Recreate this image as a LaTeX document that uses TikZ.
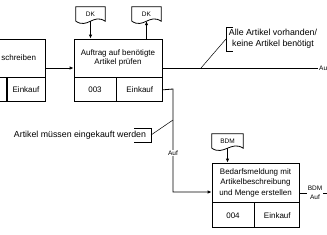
\documentclass[tikz,border=0pt]{standalone}
\usepackage{fontspec}
\setmainfont{Liberation Sans}
\usetikzlibrary{arrows.meta,positioning,calc}

\tikzset{
  fbox/.style={draw, line width=0.8pt, minimum width=88pt, minimum height=38pt,
    inner sep=0pt, align=center, font=\fontsize{8}{9.5}\selectfont},
  cell/.style={draw, line width=0.8pt, minimum height=24pt, inner sep=0pt,
    font=\fontsize{8}{9.5}\selectfont},
  doc/.style={minimum width=29pt, minimum height=14pt, inner sep=0pt,
    font=\fontsize{6.5}{7}\selectfont},
  flow/.style={line width=0.8pt},
  arr/.style={flow, -{Latex[length=4pt,width=3.5pt]}},
  lbl/.style={fill=white, inner sep=1pt, align=center,
    font=\fontsize{6.5}{8.5}\selectfont},
  note/.style={inner sep=0pt, align=center, font=\fontsize{8.8}{11}\selectfont},
  link/.style={line width=0.5pt}
}

% document symbol round a node
\newcommand{\docshape}[1]{%
  \draw[flow] (#1.south west) -- (#1.north west) -- (#1.north east) -- (#1.south east)
    .. controls ($(#1.south east)+(-12,-8)$) and ($(#1.south west)+(12,8)$) .. (#1.south west);}

\begin{document}
\begin{tikzpicture}[x=1pt,y=-1pt]
    \clip (0,0) rectangle (327,234);

    % functions
    \node[fbox, text width=70pt, align=right] (f2) at (1,58) {schreiben};
    \node[cell, minimum width=38pt, anchor=north east] (f2o) at (f2.south east) {Einkauf};
    \node[cell, minimum width=50pt, anchor=north east] (f2n) at (f2o.north west) {};

    \node[fbox] (f3) at (118,58) {Auftrag auf benötigte\\Artikel prüfen};
    \node[cell, minimum width=42pt, anchor=north west] (f3n) at (f3.south west) {003};
    \node[cell, minimum width=46pt, anchor=north west] (f3o) at (f3n.north east) {Einkauf};

    \node[fbox, minimum width=87pt, minimum height=39pt, font=\fontsize{8}{10.5}\selectfont]
      (f4) at (255.5,182.5) {Bedarfsmeldung mit\\Artikelbeschreibung\\und Menge erstellen};
    \node[cell, minimum width=42pt, minimum height=25pt, anchor=north west] (f4n) at (f4.south west) {004};
    \node[cell, minimum width=45pt, minimum height=25pt, anchor=north west] (f4o) at (f4n.north east) {Einkauf};

    % documents
    \node[doc] (dk1) at (90.5,14) {DK};
    \node[doc] (dk2) at (146.5,14) {DK};
    \node[doc, minimum width=31pt] (bdm) at (227.5,141) {BDM};
    \docshape{dk1}
    \docshape{dk2}
    \docshape{bdm}

    \draw[arr] (dk1.south) -- (dk1.south |- f3.north);
    \draw[arr] (dk2.south |- f3.north) -- (dk2.south);
    \draw[arr] (bdm.south) -- (bdm.south |- f4.north);

    % flows
    \coordinate (j1) at (173,89);
    \coordinate (j2) at (173,192);
    \coordinate (e4) at (327,193);
    \node[lbl, anchor=west] (o3) at (318,68) {Auf};
    \draw[arr] (f2.east |- 0,68) -- (f3.west |- 0,68);
    \draw[flow] (f3.east |- 0,68) -- (o3.west);
    \draw[arr] (f3o.east) -- (j1) -- (j2) -- (f4.west |- j2);
    \node[lbl] (a1) at (173,153) {Auf};
    \draw[flow] (f4.east |- e4) -- (e4);
    \node[lbl, inner sep=0.5pt] (o4) at (315,193) {BDM\\Auf};

    % annotations
    \node[note] (n1) at (273,39) {Alle Artikel vorhanden/\\keine Artikel benötigt};
    \coordinate (b1) at (226,39);
    \coordinate (c1) at (201,68);
    \draw[flow] (b1) ++(7,-12) -- ++(-7,0) -- ++(0,24) -- ++(7,0);
    \draw[link] (b1) -- (c1);

    \node[note] (n2) at (80,135) {Artikel müssen eingekauft werden};
    \coordinate (b2) at (151,135);
    \coordinate (c2) at (173,120);
    \draw[flow] (b2) ++(-17,-7) -- ++(17,0) -- ++(0,14) -- ++(-17,0);
    \draw[link] (b2) -- (c2);
\end{tikzpicture}
\end{document}
